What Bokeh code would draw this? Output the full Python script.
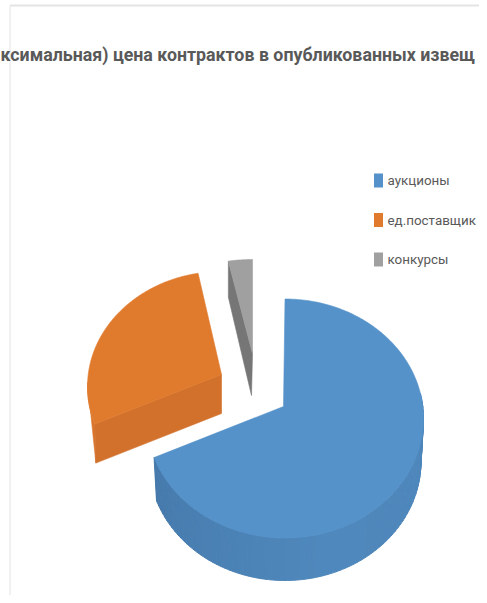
import math
from bokeh.plotting import figure
from bokeh.embed import file_html
from bokeh.resources import INLINE
from bokeh.core.properties import value

title_text = "ксимальная) цена контрактов  в опубликованных извещ"
categories = ["аукционы", "ед.поставщик", "конкурсы"]
shares = [69.7, 27.5, 2.8]
top_colors = ["#5592c9", "#e07b2e", "#a0a0a0"]

FONT = "Roboto"
TEXT = "#595959"

p = figure(width=479, height=595, x_range=(0, 479), y_range=(595, 0),
           output_backend="svg", toolbar_location=None, min_border=0,
           outline_line_color=None,
           background_fill_color="white", border_fill_color="white")
p.axis.visible = False
p.grid.visible = False

# slice boundaries, degrees clockwise from twelve o'clock
a0 = 0
bounds = []
for s in shares:
    a1 = a0 + s * 3.6
    bounds.append((a0, a1))
    a0 = a1


def arc(cx, cy, rx, ry, a, b, step=1.0):
    n = max(2, int(abs(b - a) / step) + 1)
    xs, ys = [], []
    for i in range(n):
        t = math.radians(a + (b - a) * i / (n - 1))
        xs.append(cx + rx * math.sin(t))
        ys.append(cy - ry * math.cos(t))
    return xs, ys


def mix(c1, c2, t):
    a = [int(c1[i:i + 2], 16) for i in (1, 3, 5)]
    b = [int(c2[i:i + 2], 16) for i in (1, 3, 5)]
    return "#%02x%02x%02x" % tuple(round(u + (v - u) * t) for u, v in zip(a, b))


def fill(xs, ys, color, lw=0.6):
    p.patch(xs, ys, fill_color=color, line_color=color, line_width=lw)


# --- grey slice (exploded up) ---
a, b = bounds[2]
gx, gy = arc(252, 365, 138, 106, a, b)
apex = (252, 353)
depth = 40
fill([gx[0], gx[0], apex[0] - 1, apex[0]],
     [gy[0], gy[0] + depth - 4, apex[1] + depth + 2, apex[1]], "#767676")
fill(gx + [apex[0]], gy + [apex[1]], top_colors[2])

# --- orange slice (exploded left) ---
a, b = bounds[1]
ox, oy = arc(221, 386, 134, 115, a, b)
apex = (221, 374)
depth = 39
wx, wy = arc(221, 386, 134, 115, a, 272)
fill(wx + [wx[0] + 1], wy + [wy[0] + depth], "#d9752c")
fill([apex[0], apex[0], ox[0] + 1, ox[0]],
     [apex[1], apex[1] + depth, oy[0] + depth, oy[0]], "#d2712b")
fill(ox + [apex[0]], oy + [apex[1]], top_colors[1])

# --- blue slice ---
a, b = bounds[0]
cx, cy, rx, ry = 284.5, 418, 138.5, 119.5
low_cy, low_rx, low_ry = 461, 136, 119
steps = list(range(78, int(b) + 1, 2)) + [b]
for s0, s1 in zip(steps[:-1], steps[1:]):
    tx, ty = arc(cx, cy, rx, ry, s0, s1, 1)
    lx, ly = arc(cx, low_cy, low_rx, low_ry, s1, s0, 1)
    t = (s0 - 78) / (b - 78)
    col = mix("#4e86ba", "#4f88bc", t / 0.5) if t < 0.5 else mix("#4f88bc", "#467aac", (t - 0.5) / 0.5)
    fill(tx + lx, ty + ly, col, 1.0)
bx, by = arc(cx, cy, rx, ry, a, b)
fill(bx + [283], by + [406], top_colors[0])

# --- chart frame ---
p.line([9.5, 9.5], [5, 595], line_color="#e4e4e4", line_width=1)
p.line([9.5, 479], [5, 5], line_color="#e4e4e4", line_width=2)

# --- title ---
p.text([239.5], [54], text=[title_text], text_font=value(FONT), text_font_size="17.8px",
       text_font_style="bold", text_color=TEXT, text_align="center", text_baseline="middle")

# --- legend ---
ly0, dy = 180, 39.5
for i, name in enumerate(categories):
    y = ly0 + i * dy
    p.quad(left=[373.5], right=[382.5], top=[y - 7], bottom=[y + 7],
           fill_color=top_colors[i], line_color=None)
    p.text([387], [y], text=[name], text_font=value(FONT), text_font_size="13.4px",
           text_color=TEXT, text_align="left", text_baseline="middle")

open("out.html", "w").write(file_html(p, INLINE))
